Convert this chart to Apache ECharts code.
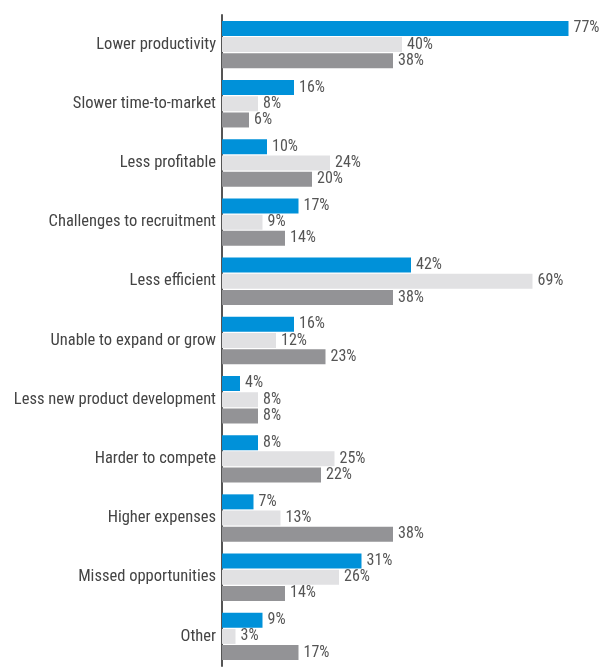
<!DOCTYPE html>
<html>
<head>
<meta charset="utf-8">
<script src="https://cdn.jsdelivr.net/npm/echarts@6/dist/echarts.min.js"></script>
<style>html,body{margin:0;padding:0;background:#fff}#c{width:608px;height:667px}</style>
</head>
<body>
<div id="c"></div>
<script>
var categories = ["Lower productivity","Slower time-to-market","Less profitable","Challenges to recruitment","Less efficient","Unable to expand or grow","Less new product development","Harder to compete","Higher expenses","Missed opportunities","Other"];
var seriesBlue = [77,16,10,17,42,16,4,8,7,31,9];
var seriesLight = [40,8,24,9,69,12,8,25,13,26,3];
var seriesDark = [38,6,20,14,38,23,8,22,38,14,17];

var font = "'Liberation Sans Narrow','Arial Narrow','Roboto Condensed','Roboto',sans-serif";
function mk(data, color){
  return {type:'bar', data:data, barWidth:15, barGap:'8%',
    itemStyle:{color:color},
    label:{show:true, position:'right', distance:5, formatter:'{c}%', color:'#555', fontSize:16, fontFamily:font},
    silent:true};
}
var chart = echarts.init(document.getElementById('c'));
chart.setOption({
  animation:false,
  grid:{left:222, right:26, top:15, bottom:1},
  xAxis:{type:'value', min:0, max:80, show:false},
  yAxis:{type:'category', data:categories, inverse:true,
    axisLine:{lineStyle:{color:'#555', width:2}},
    axisTick:{show:false},
    axisLabel:{color:'#444', fontSize:16.5, fontFamily:font, margin:6}},
  series:[mk(seriesBlue,'#0091D9'), mk(seriesLight,'#E1E1E3'), mk(seriesDark,'#939396')]
});
</script>
</body>
</html>
